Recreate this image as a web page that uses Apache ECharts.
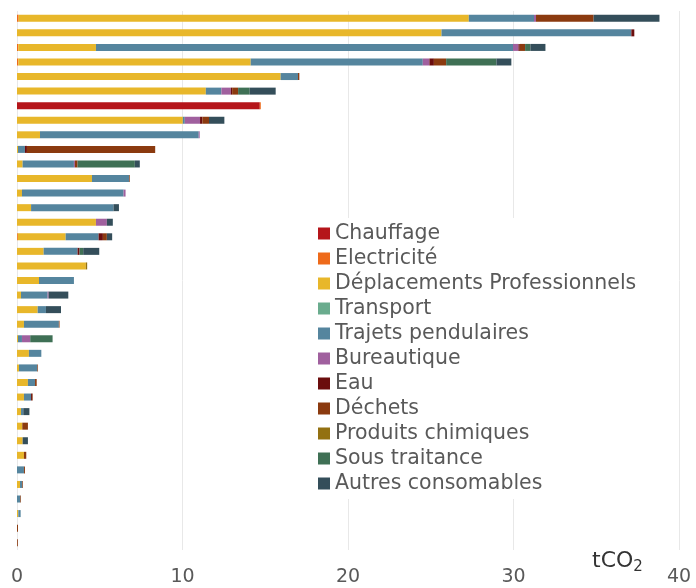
<!DOCTYPE html>
<html>
<head>
<meta charset="utf-8">
<script src="https://cdn.jsdelivr.net/npm/echarts@6/dist/echarts.min.js"></script>
<style>
  html, body { margin: 0; padding: 0; background: #fff; }
  #main { width: 696px; height: 588px; }
</style>
</head>
<body>
<div id="main"></div>
<script>
// one entry per row, top to bottom
var rows = [];
for (var r = 1; r <= 37; r++) rows.push(String(r));

var xTicks = [0, 10, 20, 30, 40];

var chauffage   = [0, 0, 0, 0, 0, 0, 14.67, 0, 0, 0, 0, 0, 0, 0, 0, 0, 0, 0, 0, 0, 0, 0, 0, 0, 0, 0, 0, 0, 0, 0, 0, 0, 0, 0, 0, 0, 0];
var electricite = [0.1, 0, 0.08, 0.08, 0, 0, 0.06, 0, 0, 0, 0, 0, 0, 0, 0, 0.05, 0, 0, 0, 0, 0, 0, 0, 0, 0, 0, 0, 0, 0, 0, 0, 0, 0, 0, 0, 0, 0];
var deplacements = [27.2, 25.65, 4.69, 14.04, 15.93, 11.41, 0, 10.02, 1.39, 0.06, 0.34, 4.53, 0.3, 0.85, 4.77, 2.89, 1.61, 4.16, 1.33, 0.24, 1.25, 0.42, 0.06, 0.72, 0.12, 0.66, 0.42, 0.24, 0.32, 0.34, 0.42, 0, 0.18, 0, 0.08, 0, 0];
var transport   = [0, 0, 0, 0, 0, 0, 0, 0, 0, 0, 0, 0, 0, 0, 0, 0, 0, 0, 0, 0, 0, 0, 0, 0, 0, 0, 0, 0, 0, 0, 0, 0, 0, 0, 0, 0, 0];
var trajets     = [3.94, 11.47, 25.2, 10.4, 1.05, 0.94, 0, 0.12, 9.59, 0.42, 3.1, 2.25, 6.14, 4.98, 0, 1.99, 2.05, 0, 2.11, 1.61, 0.5, 2.11, 0.24, 0.75, 1.11, 0.43, 0.43, 0.14, 0, 0, 0, 0.42, 0.14, 0.2, 0.14, 0, 0];
var bureautique = [0.12, 0, 0.33, 0.4, 0, 0.57, 0, 0.92, 0.06, 0, 0.06, 0, 0.12, 0, 0.66, 0, 0, 0, 0, 0.06, 0, 0, 0.5, 0, 0, 0, 0, 0, 0, 0, 0, 0, 0, 0, 0, 0, 0];
var eau         = [0, 0.18, 0.08, 0.27, 0, 0.08, 0, 0.14, 0, 0.12, 0, 0, 0, 0, 0, 0.26, 0.12, 0, 0, 0, 0, 0, 0, 0, 0, 0, 0.06, 0, 0, 0, 0, 0, 0, 0, 0, 0, 0];
var dechets     = [3.48, 0, 0.32, 0.74, 0.08, 0.36, 0, 0.4, 0, 7.75, 0.16, 0.04, 0, 0, 0, 0.24, 0, 0, 0, 0, 0, 0.04, 0, 0, 0.04, 0.1, 0.04, 0, 0.34, 0, 0.14, 0.06, 0.04, 0.04, 0, 0.06, 0.05];
var produits    = [0, 0, 0, 0, 0, 0, 0, 0, 0, 0, 0, 0, 0, 0, 0, 0, 0, 0.08, 0, 0, 0, 0, 0, 0, 0, 0, 0, 0, 0, 0, 0, 0, 0, 0, 0, 0, 0];
var sousTraitance = [0, 0, 0.32, 3.04, 0, 0.7, 0, 0, 0, 0, 3.46, 0, 0, 0, 0, 0, 0.22, 0, 0, 0, 0, 0, 1.35, 0, 0, 0, 0, 0, 0, 0, 0, 0, 0, 0, 0, 0, 0];
var autres      = [3.98, 0, 0.91, 0.9, 0, 1.57, 0, 0.93, 0, 0, 0.3, 0, 0, 0.33, 0.36, 0.32, 0.97, 0, 0, 1.19, 0.91, 0, 0, 0, 0, 0, 0, 0.37, 0, 0.32, 0, 0, 0, 0, 0, 0, 0];

var seriesNames = ["Chauffage", "Electricité", "Déplacements Professionnels", "Transport",
    "Trajets pendulaires", "Bureautique", "Eau", "Déchets", "Produits chimiques",
    "Sous traitance", "Autres consomables"];
var seriesData = [chauffage, electricite, deplacements, transport, trajets, bureautique,
    eau, dechets, produits, sousTraitance, autres];
var colors = ["#b5151a", "#ee6a1a", "#e8b72a", "#6aac8e", "#55859e", "#a0609e",
    "#6b0d0d", "#8b3a0f", "#937112", "#3f7055", "#344e5a"];

var font = "DejaVu Sans";

var series = seriesNames.map(function (name, i) {
    return {
        name: name,
        type: "bar",
        stack: "total",
        barWidth: 7,
        data: seriesData[i],
    };
});

var option = {
    animation: false,
    color: colors,
    textStyle: { fontFamily: font },
    grid: { left: 17, right: 17, top: 11, bottom: 38, containLabel: false },
    legend: {
        orient: "vertical",
        left: 313,
        top: 218,
        padding: [5, 8, 5, 5],
        backgroundColor: "#ffffff",
        icon: "rect",
        itemWidth: 12,
        itemHeight: 12,
        itemGap: 4,
        textStyle: { fontSize: 20.5, color: "#595959", fontFamily: font },
        data: seriesNames,
    },
    xAxis: {
        type: "value",
        min: xTicks[0],
        max: xTicks[xTicks.length - 1],
        interval: 10,
        axisLine: { show: false },
        axisTick: { show: false },
        axisLabel: { fontSize: 19, color: "#595959", margin: 18, fontFamily: font },
        splitLine: { show: true, lineStyle: { color: "#e8e8e8", width: 1 } },
    },
    yAxis: {
        type: "category",
        inverse: true,
        data: rows,
        axisLine: { show: false },
        axisTick: { show: false },
        axisLabel: { show: false },
    },
    graphic: [{
        type: "text",
        left: 592,
        top: 550,
        style: {
            text: "{a|tCO}{b|2}",
            rich: {
                a: { fontSize: 22, fill: "#333333", fontFamily: font },
                b: { fontSize: 15, fill: "#333333", fontFamily: font, padding: [13, 0, 0, 0] },
            },
        },
    }],
    series: series,
};

var myChart = echarts.init(document.getElementById("main"));
myChart.setOption(option);
</script>
</body>
</html>
